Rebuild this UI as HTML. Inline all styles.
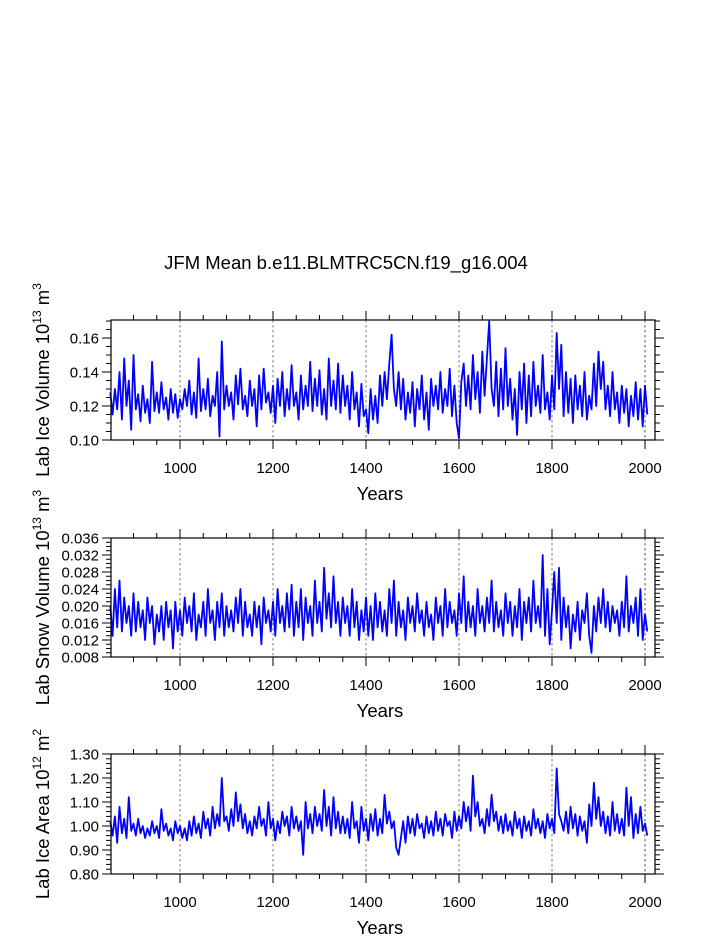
<!DOCTYPE html>
<html><head><meta charset="utf-8"><style>
html,body{margin:0;padding:0;background:#fff;}
svg text{font-family:"Liberation Sans",Helvetica,Arial,sans-serif;fill:#000;}
</style></head><body>
<svg id="chart" width="723" height="935" viewBox="0 0 723 935" xmlns="http://www.w3.org/2000/svg">
<text x="346" y="269" font-size="18.5" text-anchor="middle">JFM Mean b.e11.BLMTRC5CN.f19_g16.004</text>
</svg>
<script>
const startYear = 850;
const stepYears = 5;
const iceVolume = [
.128,.115,.130,.118,.140,.112,.148,.120,.135,.106,
.150,.118,.127,.111,.132,.116,.124,.110,.146,.117,
.128,.116,.134,.118,.125,.112,.130,.116,.127,.113,
.124,.118,.130,.120,.135,.115,.128,.113,.148,.117,
.130,.118,.136,.114,.126,.120,.140,.102,.158,.118,
.132,.120,.128,.112,.138,.121,.142,.118,.126,.114,
.135,.120,.130,.108,.138,.118,.142,.122,.128,.116,
.132,.110,.136,.120,.140,.114,.130,.118,.144,.120,
.128,.112,.138,.118,.132,.120,.146,.117,.136,.120,
.141,.115,.130,.112,.148,.120,.135,.118,.145,.116,
.138,.120,.132,.112,.140,.118,.128,.108,.133,.114,
.118,.104,.130,.112,.126,.110,.138,.120,.140,.124,
.145,.162,.130,.120,.140,.118,.136,.112,.128,.116,
.134,.108,.130,.118,.138,.112,.128,.106,.136,.120,
.132,.118,.140,.116,.130,.120,.142,.114,.132,.110,
.101,.134,.145,.120,.138,.118,.150,.124,.140,.116,
.152,.126,.148,.170,.130,.120,.146,.114,.142,.118,
.154,.120,.136,.112,.130,.103,.140,.118,.145,.110,
.138,.114,.146,.120,.132,.116,.150,.118,.128,.112,
.138,.118,.163,.130,.156,.114,.140,.116,.136,.110,
.138,.118,.132,.114,.140,.112,.126,.118,.145,.120,
.152,.130,.146,.118,.132,.114,.140,.118,.128,.110,
.132,.116,.130,.108,.126,.114,.134,.112,.130,.108,
.132,.115];
const snowVolume = [
.020,.013,.024,.015,.026,.014,.022,.016,.020,.013,
.023,.014,.021,.015,.019,.012,.022,.016,.020,.011,
.018,.014,.020,.012,.021,.015,.019,.010,.021,.014,
.019,.013,.022,.016,.020,.014,.023,.012,.018,.015,
.021,.013,.024,.016,.019,.012,.021,.015,.023,.013,
.020,.015,.019,.014,.022,.016,.024,.013,.021,.015,
.018,.013,.021,.015,.020,.011,.022,.016,.019,.014,
.021,.013,.024,.016,.020,.014,.023,.015,.025,.013,
.021,.015,.024,.012,.022,.016,.020,.013,.026,.016,
.021,.014,.029,.017,.023,.015,.027,.016,.021,.013,
.022,.016,.020,.013,.024,.015,.021,.012,.019,.014,
.022,.013,.020,.012,.023,.015,.021,.014,.019,.013,
.024,.016,.026,.013,.021,.015,.019,.012,.022,.016,
.020,.014,.023,.016,.019,.013,.021,.015,.018,.012,
.022,.016,.020,.013,.024,.015,.021,.016,.019,.013,
.023,.016,.027,.014,.021,.015,.020,.013,.024,.016,
.020,.014,.022,.016,.026,.014,.021,.015,.019,.013,
.023,.016,.021,.013,.020,.015,.024,.012,.021,.016,
.022,.014,.026,.016,.020,.015,.032,.013,.024,.011,
.019,.028,.016,.029,.012,.022,.015,.020,.010,.018,
.014,.021,.012,.019,.016,.023,.013,.009,.020,.014,
.022,.016,.024,.015,.021,.014,.020,.016,.019,.013,
.021,.015,.027,.014,.020,.016,.022,.013,.024,.012,
.018,.014];
const iceArea = [
1.02,0.96,1.04,0.93,1.08,0.97,1.03,0.95,1.12,0.98,
1.01,0.96,1.03,0.97,1.00,0.95,0.99,0.96,1.02,0.97,
1.00,0.95,1.07,0.98,1.01,0.96,0.99,0.94,1.02,0.97,
1.00,0.95,0.99,0.94,1.02,0.96,1.04,0.97,1.01,0.95,
1.06,0.99,1.03,0.96,1.08,0.99,1.05,1.00,1.20,1.02,
1.04,0.98,1.07,1.00,1.14,1.02,1.09,0.99,1.05,0.97,
1.02,0.96,1.04,0.99,1.08,1.00,1.03,0.96,1.10,0.99,
1.03,0.94,1.02,0.97,1.06,1.00,1.04,0.96,1.08,0.99,
1.04,0.98,1.02,0.88,1.10,0.99,1.05,0.97,1.08,1.00,
1.05,0.98,1.15,1.00,1.08,0.96,1.12,0.99,1.06,0.97,
1.04,0.97,1.03,0.95,1.10,0.99,1.02,0.93,1.08,0.98,
1.03,0.94,1.05,0.98,1.07,0.96,1.03,0.97,1.13,1.01,
1.06,0.99,1.02,0.91,0.88,0.95,1.02,0.93,1.04,0.97,
1.03,0.96,1.05,0.99,1.01,0.95,1.04,0.97,1.02,0.96,
1.06,0.98,1.03,0.96,1.05,1.00,1.02,0.95,1.06,0.98,
1.04,0.99,1.10,1.02,1.08,0.98,1.21,1.04,1.10,1.00,
1.03,0.97,1.07,1.00,1.13,1.02,1.06,0.98,1.04,0.97,
1.05,0.98,1.02,0.96,1.06,0.99,1.03,0.95,1.04,0.98,
1.02,0.96,1.07,0.99,1.03,0.97,1.02,0.95,1.05,0.99,
1.03,0.97,1.24,1.05,1.02,0.98,1.06,0.97,1.08,0.99,
1.05,0.96,1.04,0.98,1.02,0.93,1.09,1.00,1.18,1.03,
1.12,1.00,1.06,0.97,1.04,0.96,1.10,0.98,1.05,0.97,
1.03,0.96,1.16,1.00,1.12,0.95,1.05,0.97,1.08,0.98,
1.01,0.96];
const xTickLabels = [1000,1200,1400,1600,1800,2000];
const iceVolTicks = ["0.10","0.12","0.14","0.16"];
const snowTicks = ["0.008","0.012","0.016","0.020","0.024","0.028","0.032","0.036"];
const areaTicks = ["0.80","0.90","1.00","1.10","1.20","1.30"];

const NS="http://www.w3.org/2000/svg";
const svg=document.getElementById('chart');
function mk(tag,attrs,parent){const e=document.createElementNS(NS,tag);for(const k in attrs)e.setAttribute(k,attrs[k]);(parent||svg).appendChild(e);return e;}
const X0=111,X1=655;
function xs(yr){return 180+(yr-1000)*0.465;}

function panel(cfg){
  const g=mk('g',{});
  
  
  const T=cfg.top,B=cfg.bottom;
  const ys=v=>B-(v-cfg.ymin)/(cfg.ymax-cfg.ymin)*(B-T);
  for(const yr of xTickLabels){
    const l=mk('line',{x1:xs(yr),x2:xs(yr),y1:T,y2:B,stroke:yr===2000?'#aaa':'#444','stroke-width':yr===2000?2:0.7,'stroke-dasharray':'2.5,2.5'},g);
    
    
  }
  let d='';
  cfg.data.forEach((v,i)=>{const yr=startYear+i*stepYears;d+=(i?'L':'M')+xs(yr).toFixed(1)+','+ys(v).toFixed(1);});
  const p=mk('path',{d:d,fill:'none',stroke:'#0000ff','stroke-width':1.8,'stroke-linejoin':'round'},g);
  
  
  const f=mk('rect',{x:X0,y:T,width:X1-X0,height:B-T,fill:'none',stroke:'#000','stroke-width':1.2},g);
  
  
  for(let yr=900;yr<=2000;yr+=50){
    const maj=xTickLabels.includes(yr);const L=maj?9:5;const x=xs(yr);
    mk('line',{x1:x,x2:x,y1:B,y2:B+L,stroke:'#000','stroke-width':1},g);
    mk('line',{x1:x,x2:x,y1:T,y2:T-L,stroke:'#000','stroke-width':1},g);
  }
  xTickLabels.forEach(yr=>{
    const t=mk('text',{x:xs(yr),y:B+33,'font-size':15,'text-anchor':'middle'},g);t.textContent=yr;
    
    
  });
  const xt=mk('text',{x:380,y:B+60,'font-size':18.5,'text-anchor':'middle'},g);xt.textContent='Years';
  
  
  for(let v=cfg.ymin;v<=cfg.ymax+1e-9;v+=cfg.minor){
    const y=ys(v);if(y<T-0.5)break;
    const k=Math.round((v-cfg.ymin)/cfg.minor);const maj=k%cfg.per===0;const L=maj?9:5;
    mk('line',{x1:X0,x2:X0-L,y1:y,y2:y,stroke:'#000','stroke-width':1},g);
    mk('line',{x1:X1,x2:X1+L,y1:y,y2:y,stroke:'#000','stroke-width':1},g);
  }
  cfg.ticks.forEach(s=>{
    const t=mk('text',{x:99,y:ys(parseFloat(s))+5.5,'font-size':15,'text-anchor':'end'},g);t.textContent=s;
    
    
  });
  const cy=(T+B)/2-cfg.shift;
  const yt=mk('text',{x:0,y:0,'font-size':18.5,'text-anchor':'middle',transform:'translate(49,'+cy+') rotate(-90)'},g);
  yt.innerHTML=cfg.label+' 10<tspan font-size="12" dy="-8">'+cfg.exp+'</tspan><tspan dy="8"> m</tspan><tspan font-size="12" dy="-8">'+cfg.pow+'</tspan>';
  
  
}
panel({name:'ice-volume-panel',top:320,bottom:440,ymin:0.10,ymax:0.1706,minor:0.005,per:4,data:iceVolume,ticks:iceVolTicks,label:'Lab Ice Volume',exp:'13',pow:'3',shift:0});
panel({name:'snow-volume-panel',top:538,bottom:657,ymin:0.008,ymax:0.036,minor:0.001,per:4,data:snowVolume,ticks:snowTicks,label:'Lab Snow Volume',exp:'13',pow:'3',shift:0});
panel({name:'ice-area-panel',top:754,bottom:874,ymin:0.80,ymax:1.30,minor:0.02,per:5,data:iceArea,ticks:areaTicks,label:'Lab Ice Area',exp:'12',pow:'2',shift:0});
</script>
</body></html>
